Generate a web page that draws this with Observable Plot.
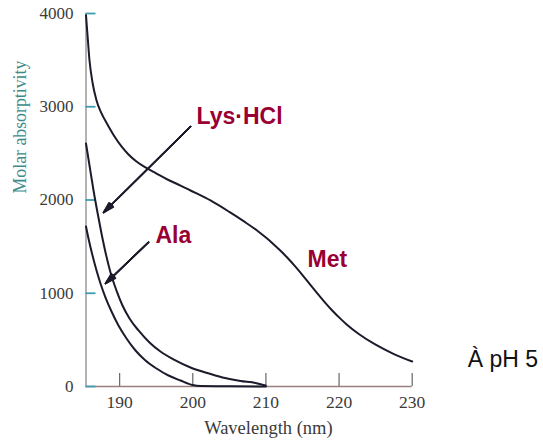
<!DOCTYPE html>
<html>
<head>
<meta charset="utf-8">
<script src="https://cdn.jsdelivr.net/npm/d3@7"></script>
<script src="https://cdn.jsdelivr.net/npm/@observablehq/plot@0.6"></script>
<style>
  html, body { margin: 0; padding: 0; background: #fff; }
  #chart { width: 543px; height: 440px; }
</style>
</head>
<body>
<div id="chart"></div>
<script>
// ---- data ----
const xTicks = [190, 200, 210, 220, 230];
const yTicks = [0, 1000, 2000, 3000, 4000];
const xDomain = [185.4, 230];
const yDomain = [0, 4000];

const metWavelength = [185.40, 185.61, 185.88, 186.29, 186.84, 187.52, 188.34, 189.30, 190.25, 191.21, 192.30, 193.53, 195.04, 196.54, 198.32, 199.69, 202.42, 205.0, 207.0, 209.0, 210.0, 211.0, 212.0, 213.0, 214.0, 215.0, 216.0, 217.0, 218.0, 219.0, 220.0, 221.0, 222.7, 225.0, 227.5, 230.0];
const metAbs        = [3980, 3764, 3496, 3260, 3067, 2928, 2810, 2681, 2574, 2488, 2413, 2349, 2284, 2220, 2155, 2102, 1995, 1872, 1770, 1660, 1597, 1529, 1455, 1375, 1288, 1195, 1098, 1001, 908, 821, 741, 668, 563, 448, 348, 268];

const lysWavelength = [185.40, 185.88, 186.43, 186.97, 187.52, 188.07, 188.75, 189.57, 190.39, 191.35, 192.58, 194.08, 195.58, 197.36, 199.69, 201.74, 204.07, 206.53, 208.58, 209.95];
const lysAbs        = [2606, 2370, 2102, 1866, 1641, 1437, 1223, 1029, 869, 729, 601, 472, 375, 290, 204, 150, 97, 59, 38, 11];

const alaWavelength = [185.40, 185.74, 186.29, 186.84, 187.38, 188.07, 188.89, 189.84, 190.94, 192.17, 193.53, 195.04, 196.68, 198.32, 199.96, 201.05, 205.0, 210.0];
const alaAbs        = [1716, 1587, 1405, 1244, 1105, 954, 804, 654, 515, 386, 279, 193, 118, 64, 16, 5, 3, 0];

const seriesNames = ["Met", "Lys·HCl", "Ala"];

const labelText = ["Lys·HCl", "Ala", "Met"];
const labelX = [206.4, 197.35, 218.4];
const labelY = [2897, 1616, 1359];

const arrowX1 = [199.7, 193.95];
const arrowY1 = [2788, 1547];
const arrowX2 = [187.8, 188.07];
const arrowY2 = [1866, 1105];

const noteText = ["À pH 5"];
const noteX = [242.4];
const noteY = [286];

const xLabel = "Wavelength (nm)";
const yLabel = "Molar absorptivity";

// ---- layout ----
const W = 543, H = 440;
const mL = 85.5, mR = 131.3, mT = 13, mB = 54;

const rows = [];
[[metWavelength, metAbs], [lysWavelength, lysAbs], [alaWavelength, alaAbs]].forEach(([xs, ys], s) => {
  xs.forEach((x, i) => rows.push({series: seriesNames[s], x, y: ys[i]}));
});

const labels = labelText.map((t, i) => ({t, x: labelX[i], y: labelY[i]}));
const notes = noteText.map((t, i) => ({t, x: noteX[i], y: noteY[i]}));
const arrows = arrowX1.map((x1, i) => ({x1, y1: arrowY1[i], x2: arrowX2[i], y2: arrowY2[i]}));

const curveColor = "#1b1b2b";
const annColor = "#990033";
const serif = "Liberation Serif";
const fmt = d3.format("d");

// arrowheads: fan of narrow wings fills a slim triangular head
const headAngles = [32, 24, 16, 9, 3];
const arrowMarks = headAngles.map(a => Plot.arrow(arrows, {
  x1: "x1", y1: "y1", x2: "x2", y2: "y2",
  stroke: curveColor, strokeWidth: 1.6, headAngle: a, headLength: 10.5
}));

const chart = Plot.plot({
  width: W,
  height: H,
  marginLeft: mL,
  marginRight: mR,
  marginTop: mT,
  marginBottom: mB,
  style: {fontFamily: serif, fontSize: "17px", background: "#fff", overflow: "visible"},
  x: {domain: xDomain, axis: null},
  y: {domain: yDomain, axis: null},
  marks: [
    // axes lines
    Plot.ruleX([xDomain[0]], {stroke: "#8a8a8a", strokeWidth: 1.3}),
    Plot.ruleY([0], {stroke: "#9a7f80", strokeWidth: 1.5}),
    // y ticks (inward) and labels
    Plot.axisY(yTicks, {anchor: "left", tickSize: -10, tickFormat: () => "", stroke: "#3f9db2", strokeWidth: 1.8, label: null}),
    Plot.axisY(yTicks, {anchor: "left", tickSize: 0, tickPadding: 12.5, tickFormat: fmt, fill: "#3a3a3a", fontFamily: serif, fontSize: 17, label: null}),
    // x ticks (inward) and labels
    Plot.axisX(xTicks, {anchor: "bottom", tickSize: -13, tickFormat: () => "", stroke: "#666", strokeWidth: 1.2, label: null}),
    Plot.axisX(xTicks, {anchor: "bottom", tickSize: 0, tickPadding: 9, tickFormat: fmt, fill: "#3a3a3a", fontFamily: serif, fontSize: 17.5, label: null}),
    // axis titles
    Plot.text([xLabel], {frameAnchor: "bottom", dx: 19.3, dy: 42, text: d => d, fill: "#3a3a3a", fontFamily: serif, fontSize: 18.5, lineAnchor: "middle"}),
    Plot.text([yLabel], {frameAnchor: "left", dx: -65.5, dy: -6.5, rotate: -90, text: d => d, fill: "#3d8a8c", fontFamily: serif, fontSize: 17.8, lineAnchor: "middle"}),
    // curves
    Plot.line(rows, {x: "x", y: "y", z: "series", stroke: curveColor, strokeWidth: 2, curve: "monotone-x"}),
    // arrows
    ...arrowMarks,
    // annotations
    Plot.text(labels, {x: "x", y: "y", text: "t", fill: annColor, fontFamily: "Liberation Sans", fontWeight: "bold", fontSize: 23, lineAnchor: "middle"}),
    Plot.text(notes, {x: "x", y: "y", text: "t", fill: "#111", fontFamily: "Liberation Sans", fontSize: 23, lineAnchor: "middle"})
  ]
});

document.getElementById("chart").appendChild(chart);
</script>
</body>
</html>
